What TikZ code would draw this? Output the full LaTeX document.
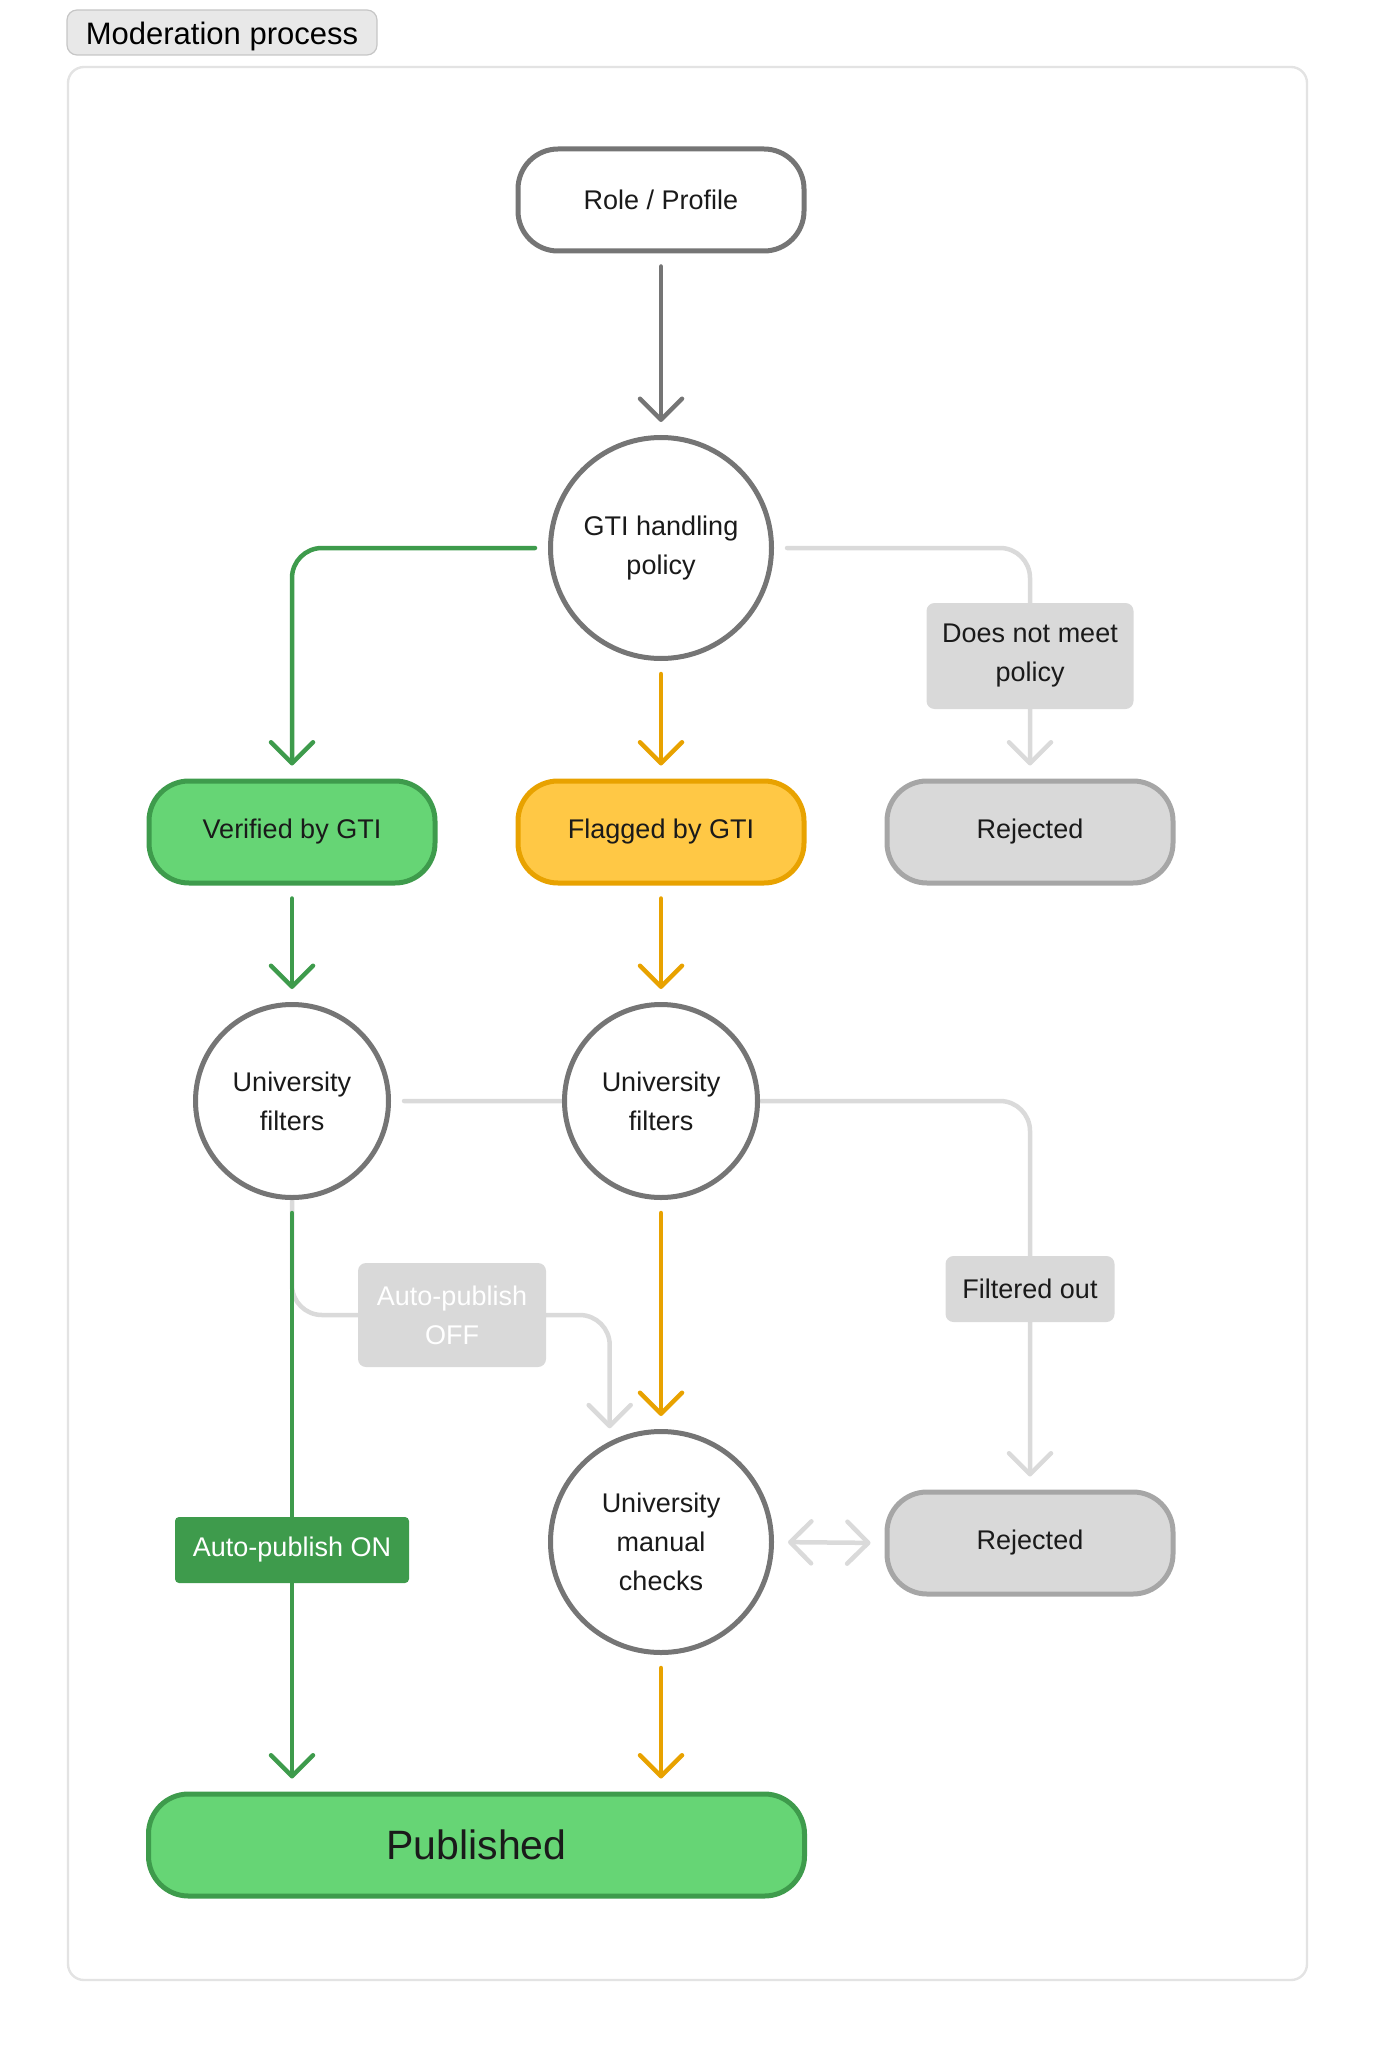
\documentclass[tikz,border=0pt]{standalone}
\usepackage{fontspec}
\setmainfont{Liberation Sans}
\usetikzlibrary{arrows.meta,backgrounds,calc}
\definecolor{strokegray}{HTML}{757575}
\definecolor{lightline}{HTML}{DADADA}
\definecolor{gline}{HTML}{3E9B4C}
\definecolor{gfill}{HTML}{66D575}
\definecolor{yline}{HTML}{E8A200}
\definecolor{yfill}{HTML}{FFC845}
\definecolor{rejfill}{HTML}{D9D9D9}
\definecolor{rejline}{HTML}{A6A6A6}
\definecolor{framecol}{HTML}{E3E3E3}
\definecolor{tagfill}{HTML}{E8E8E8}
\definecolor{tagline}{HTML}{C6C6C6}
\definecolor{txtcol}{HTML}{1A1A1A}
\tikzset{chev/.tip={Straight Barb[length=10.5pt,width=21pt,round]}}
\begin{document}
\begin{tikzpicture}[x=0.5pt,y=-0.5pt,
  txt/.style={font=\fontsize{13.5}{19.5}\selectfont, text=txtcol, align=center},
  pill/.style={txt, rectangle, rounded corners=20pt, minimum width=143pt, minimum height=51pt, line width=2.5pt, inner sep=0pt},
  whitepill/.style={pill, draw=strokegray, fill=white},
  greenpill/.style={pill, draw=gline, fill=gfill},
  yellowpill/.style={pill, draw=yline, fill=yfill},
  rejpill/.style={pill, draw=rejline, fill=rejfill},
  bigcirc/.style={txt, circle, draw=strokegray, fill=white, line width=2.5pt, minimum size=110.5pt, inner sep=0pt},
  smallcirc/.style={txt, circle, draw=strokegray, fill=white, line width=2.5pt, minimum size=96.5pt, inner sep=0pt},
  lab/.style={txt, rectangle, fill=rejfill, rounded corners=4pt, inner sep=0pt},
  conn/.style={line width=2.25pt, line cap=round, rounded corners=15pt, -{chev}, shorten <=6.5pt, shorten >=6.5pt},
  plainconn/.style={line width=2.25pt, line cap=round, rounded corners=15pt},
  conn2/.style={line width=2.25pt, line cap=round, {chev}-{chev}, shorten <=7pt, shorten >=7pt},
]
\useasboundingbox (0,0) rectangle (1375,2048);

% title tag
\node[font=\fontsize{15.5}{18}\selectfont, text=black, fill=tagfill, draw=tagline, line width=0.6pt,
      rounded corners=5pt, minimum width=155pt, minimum height=22.5pt, inner sep=0pt,
      text height=12.5pt, text depth=0.5pt] (title) at (222,32.5) {Moderation process};

% nodes
\node[whitepill] (role) at (661,200) {Role / Profile};
\node[bigcirc] (gti) at (661,548) {GTI handling\\policy};
\node[greenpill] (ver) at (292,832) {Verified by GTI};
\node[yellowpill] (flag) at (661,832) {Flagged by GTI};
\node[rejpill] (rej1) at (1030,832) {Rejected};
\node[smallcirc] (uf1) at (292,1101) {University\\filters};
\node[smallcirc] (uf2) at (661,1101) {University\\filters};
\node[bigcirc] (umc) at (661,1542) {University\\manual\\checks};
\node[rejpill] (rej2) at (1030,1543) {Rejected};
\node[greenpill, minimum width=328pt, font=\fontsize{20.5}{24}\selectfont] (pub) at (476.5,1845) {Published};

% labels on connectors
\node[lab, minimum width=103.5pt, minimum height=53pt] (dnm) at (1030,656) {Does not meet\\policy};
\node[lab, minimum width=84.5pt, minimum height=33pt] (filt) at (1030,1289) {Filtered out};
\node[lab, minimum width=94pt, minimum height=52pt, text=white] (off) at (452,1315) {Auto-publish\\OFF};
\node[lab, fill=gline, rounded corners=2pt, minimum width=117pt, minimum height=33pt, text=white] (on) at (292,1550) {Auto-publish ON};

\begin{pgfonlayer}{background}
  % outer frame
  \draw[framecol, line width=1.2pt, rounded corners=8pt] (68,67) rectangle (1307,1980);
  % light gray connectors first
  \draw[lightline, conn] (gti.east) -| (rej1.north);
  \draw[lightline, conn] (uf1.east) -| (rej2.north);
  \draw[lightline, plainconn] (uf1.south) |- ([xshift=2pt]off.west);
  \draw[lightline, conn, shorten <=0pt] ([xshift=-2pt]off.east) -| (umc.117);
  \draw[lightline, conn2] (umc.east) -- (rej2.west);
  % main connectors
  \draw[strokegray, conn] (role.south) -- (gti.north);
  \draw[gline, conn] (gti.west) -| (ver.north);
  \draw[yline, conn] (gti.south) -- (flag.north);
  \draw[gline, conn] (ver.south) -- (uf1.north);
  \draw[yline, conn] (flag.south) -- (uf2.north);
  \draw[gline, conn] (uf1.south) -- (uf1.south |- pub.north);
  \draw[yline, conn] (uf2.south) -- (umc.north);
  \draw[yline, conn] (umc.south) -- (umc.south |- pub.north);
\end{pgfonlayer}
\end{tikzpicture}
\end{document}
